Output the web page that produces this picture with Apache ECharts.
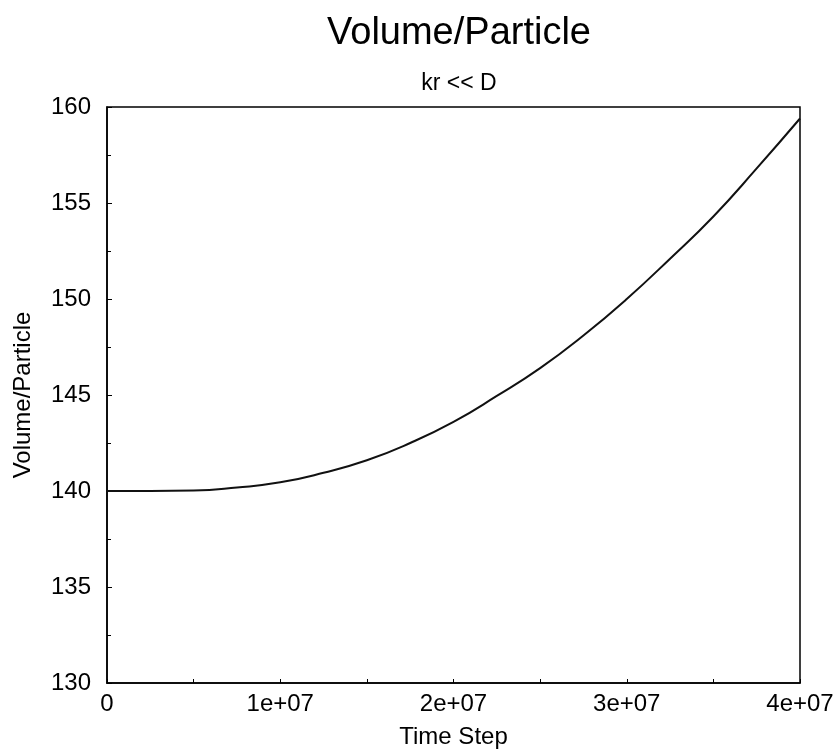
<!DOCTYPE html>
<html>
<head>
<meta charset="utf-8">
<script src="https://cdn.jsdelivr.net/npm/echarts@6/dist/echarts.min.js"></script>
<style>
html,body{margin:0;padding:0;background:#fff;}
#chart{width:839px;height:751px;}
</style>
</head>
<body>
<div id="chart"></div>
<script>
// Data
var timeSteps = [0, 2.5e6, 5e6, 7.5e6, 1e7, 1.25e7, 1.5e7, 1.75e7, 2e7, 2.25e7, 2.5e7, 2.75e7, 3e7, 3.25e7, 3.5e7, 3.75e7, 4e7];
var volumePerParticle = [140.00, 140.00, 140.02, 140.18, 140.45, 140.95, 141.6, 142.5, 143.6, 144.95, 146.4, 148.1, 150.0, 152.1, 154.3, 156.8, 159.4];
var xTickLabels = {0: '0', 10000000: '1e+07', 20000000: '2e+07', 30000000: '3e+07', 40000000: '4e+07'};
var titleText = 'Volume/Particle';
var subtitleText = 'kr << D';
var xName = 'Time Step';
var yName = 'Volume/Particle';

var font = 'Liberation Sans, Arial, Helvetica, sans-serif';
var chart = echarts.init(document.getElementById('chart'));
var pts = timeSteps.map(function (t, i) { return [t, volumePerParticle[i]]; });

chart.setOption({
  animation: false,
  backgroundColor: '#fff',
  title: [
    { text: titleText, left: 454, top: 10, textAlign: 'center',
      textStyle: { fontFamily: font, fontSize: 38, fontWeight: 'normal', color: '#000' } },
    { text: subtitleText, left: 454, top: 67, textAlign: 'center',
      textStyle: { fontFamily: font, fontSize: 23, fontWeight: 'normal', color: '#000' } }
  ],
  grid: { left: 107, right: 39, top: 107, bottom: 68, containLabel: false, outerBoundsMode: 'none',
    show: true, borderColor: '#000', borderWidth: 1.5, backgroundColor: 'transparent' },
  xAxis: {
    type: 'value', min: 0, max: 4e7, interval: 5e6,
    name: xName, nameLocation: 'middle', nameGap: 42,
    nameTextStyle: { fontFamily: font, fontSize: 24, color: '#000' },
    axisLine: { lineStyle: { color: '#000', width: 1.5 } },
    axisTick: { inside: true, length: 4, lineStyle: { color: '#000' } },
    splitLine: { show: false },
    axisLabel: { fontFamily: font, fontSize: 24, color: '#000', margin: 9,
      formatter: function (v) { return xTickLabels[v] !== undefined ? xTickLabels[v] : ''; } }
  },
  yAxis: {
    type: 'value', min: 130, max: 160, interval: 5,
    name: yName, nameLocation: 'middle', nameGap: 72,
    nameTextStyle: { fontFamily: font, fontSize: 24, color: '#000' },
    axisLine: { lineStyle: { color: '#000', width: 1.5 } },
    axisTick: { inside: true, length: 5, lineStyle: { color: '#000' } },
    minorTick: { show: true, splitNumber: 2, length: 4, lineStyle: { color: '#000' } },
    splitLine: { show: false },
    axisLabel: { fontFamily: font, fontSize: 24, color: '#000', margin: 16 }
  },
  series: [{
    type: 'line', data: pts, showSymbol: false, smooth: 0.5,
    lineStyle: { color: '#111', width: 2 }
  }]
});
</script>
</body>
</html>
